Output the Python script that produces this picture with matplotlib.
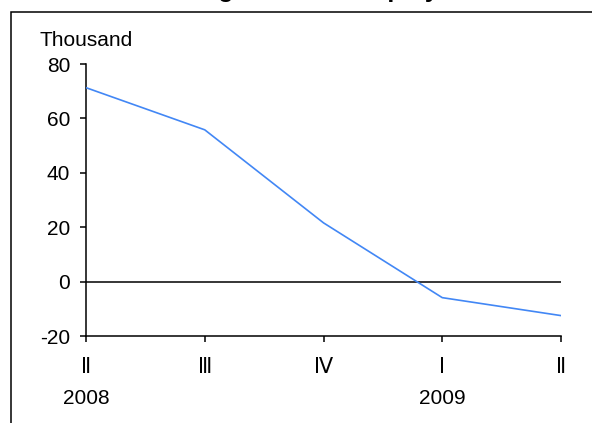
import matplotlib
matplotlib.use("Agg")
import matplotlib.pyplot as plt
from matplotlib.patches import Rectangle
import matplotlib.transforms as mtransforms

# Data
quarters = ["Ⅱ", "Ⅲ", "Ⅳ", "Ⅰ", "Ⅱ"]
years = ["2008", "", "", "2009", ""]
change = [71.3, 55.8, 21.6, -5.9, -12.5]
yticks = [-20, 0, 20, 40, 60, 80]
title = "Change in Total Employment"
unit = "Thousand"

plt.rcParams['font.family'] = ['Liberation Sans', 'DejaVu Sans']
FS = 15

W, H = 592, 423
fig = plt.figure(figsize=(W / 100, H / 100), dpi=100)
fig.patch.set_facecolor('white')

ax = fig.add_axes([86 / W, 1 - 336 / H, (561 - 86) / W, (336 - 64) / H])
x = list(range(len(change)))
ax.plot(x, change, color='#4287F5', lw=1.2, zorder=3)
ax.axhline(0, color='black', lw=1.1, zorder=2)

ax.set_xlim(0, len(change) - 1)
ax.set_ylim(-20, 80)
ax.set_yticks(yticks)
ax.set_yticklabels([str(v) for v in yticks], fontsize=FS)
ax.set_xticks(x)
ax.set_xticklabels(quarters, fontsize=FS)

for s in ['top', 'right']:
    ax.spines[s].set_visible(False)
for s in ['left', 'bottom']:
    ax.spines[s].set_linewidth(1.1)
    ax.spines[s].set_color('black')
ax.tick_params(axis='y', direction='out', length=4.3, width=1.1, pad=7)
ax.tick_params(axis='x', direction='out', length=4.3, width=1.1, pad=11.5)

trans = mtransforms.blended_transform_factory(ax.transData, fig.transFigure)
for xi, yr in zip(x, years):
    if yr:
        ax.text(xi, 1 - 404 / H, yr, transform=trans, ha='center', va='baseline', fontsize=FS)

fig.text(40 / W, 1 - 45.7 / H, unit, ha='left', va='baseline', fontsize=FS)
fig.text(327 / W, 1 + 2.5 / H, title, ha='center', va='baseline', fontsize=18, fontweight='bold')

frame = Rectangle((11 / W, -0.2), 1.5, 1.2 - 12 / H, transform=fig.transFigure,
                  fill=False, ec='black', lw=1.1, clip_on=False)
fig.add_artist(frame)

fig.savefig('out.png', dpi=100)
